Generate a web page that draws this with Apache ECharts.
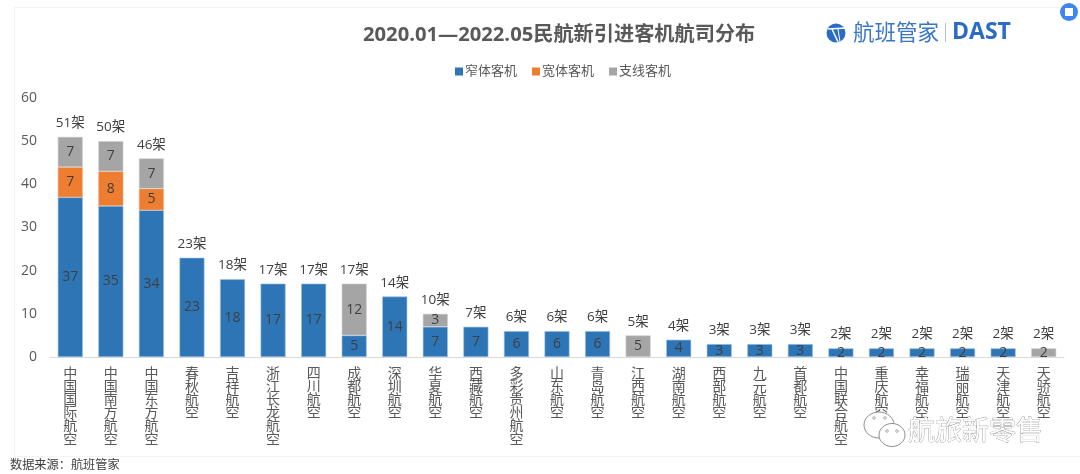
<!DOCTYPE html>
<html>
<head>
<meta charset="utf-8">
<title>民航新引进客机航司分布</title>
<style>
html, body { margin: 0; padding: 0; background: #fff; }
#chart { width: 1080px; height: 474px; }
</style>
<script src="https://cdn.jsdelivr.net/npm/echarts@6/dist/echarts.min.js"></script>
</head>
<body>
<div id="chart"></div>
<script>
var categories = ['中国国际航空', '中国南方航空', '中国东方航空', '春秋航空', '吉祥航空', '浙江长龙航空', '四川航空', '成都航空', '深圳航空', '华夏航空', '西藏航空', '多彩贵州航空', '山东航空', '青岛航空', '江西航空', '湖南航空', '西部航空', '九元航空', '首都航空', '中国联合航空', '重庆航空', '幸福航空', '瑞丽航空', '天津航空', '天骄航空'];
var narrowBody = [37, 35, 34, 23, 18, 17, 17, 5, 14, 7, 7, 6, 6, 6, null, 4, 3, 3, 3, 2, 2, 2, 2, 2, null];
var wideBody = [7, 8, 5, null, null, null, null, null, null, null, null, null, null, null, null, null, null, null, null, null, null, null, null, null, null];
var regional = [7, 7, 7, null, null, null, null, 12, null, 3, null, null, null, null, 5, null, null, null, null, null, null, null, null, null, 2];
var totals = [51, 50, 46, 23, 18, 17, 17, 17, 14, 10, 7, 6, 6, 6, 5, 4, 3, 3, 3, 2, 2, 2, 2, 2, 2];
var FONT = '"Open Sans", "Noto Sans CJK SC", sans-serif';
var TEXT = '#595959';

function barSeries(name, data, color, edge) {
    return {
        name: name,
        type: 'bar',
        stack: 'total',
        barWidth: 25,
        data: data,
        itemStyle: { color: color, borderColor: edge, borderWidth: 0.6 },
        label: {
            show: true,
            position: 'inside',
            color: '#404040',
            fontFamily: FONT,
            fontSize: 14
        }
    };
}

// 微信水印气泡上的小眼睛
function dot(cx, cy) {
    return { type: 'circle', z: 53, shape: { cx: cx, cy: cy, r: 1.3 }, style: { fill: '#fff', stroke: '#8c8c8c', lineWidth: 0.7 } };
}

var myChart = echarts.init(document.getElementById('chart'), null, { renderer: 'canvas' });

myChart.setOption({
    animation: false,
    backgroundColor: '#fff',
    title: {
        text: '2020.01—2022.05民航新引进客机航司分布',
        left: 358,
        top: 20,
        textStyle: { color: TEXT, fontFamily: FONT, fontSize: 20.2, fontWeight: 'bold' }
    },
    legend: {
        data: ['窄体客机', '宽体客机', '支线客机'],
        left: 450,
        top: 60,
        icon: 'rect',
        itemWidth: 8,
        itemHeight: 8,
        itemGap: 15,
        itemStyle: { borderWidth: 0 },
        textStyle: { color: TEXT, fontFamily: FONT, fontSize: 13, padding: [0, 0, 0, -3] }
    },
    grid: { left: 50, right: 16, top: 98, bottom: 117 },
    xAxis: {
        type: 'category',
        data: categories,
        axisTick: { show: false },
        axisLine: { lineStyle: { color: '#d9d9d9' } },
        axisLabel: {
            interval: 0,
            margin: 10,
            color: TEXT,
            fontFamily: FONT,
            fontSize: 14,
            lineHeight: 13.2,
            verticalAlign: 'top',
            formatter: function(value) {
                return value.split('').join('\n');
            }
        }
    },
    yAxis: {
        type: 'value',
        min: 0,
        max: 60,
        interval: 10,
        axisLine: { show: false },
        axisTick: { show: false },
        splitLine: { show: false },
        axisLabel: { margin: 13, color: TEXT, fontFamily: FONT, fontSize: 14 }
    },
    series: [
        barSeries('窄体客机', narrowBody, '#2e75b6', '#9dc3e6'),
        barSeries('宽体客机', wideBody, '#ed7d31', '#f4b183'),
        barSeries('支线客机', regional, '#a5a5a5', '#d0d0d0'),
        {
            name: '合计',
            type: 'line',
            data: totals,
            symbolSize: 0,
            lineStyle: { opacity: 0 },
            label: {
                show: true,
                position: 'top',
                distance: 7,
                color: '#404040',
                fontFamily: FONT,
                fontSize: 13.5,
                formatter: '{c}架'
            }
        }
    ],
    graphic: [
        // 卡片边框
        { type: 'rect', z: -1, shape: { x: 14.5, y: 7.5, width: 1070, height: 449 }, style: { fill: 'none', stroke: '#f2f2f2', lineWidth: 1 } },
        // 角标
        { type: 'circle', shape: { cx: 1069, cy: 12, r: 9 }, style: { fill: '#3d86f0' } },
        { type: 'rect', shape: { x: 1065, y: 8, width: 8, height: 8 }, style: { fill: '#fff' } },
        // logo
        { type: 'circle', shape: { cx: 836, cy: 33, r: 9.5 }, style: { fill: '#2a6cc4' } },
        { type: 'line', shape: { x1: 828, y1: 29, x2: 846, y2: 28 }, style: { stroke: '#fff', lineWidth: 1.5 } },
        { type: 'line', shape: { x1: 832, y1: 29, x2: 838, y2: 42 }, style: { stroke: '#fff', lineWidth: 1.5 } },
        { type: 'line', shape: { x1: 838, y1: 29, x2: 840, y2: 42 }, style: { stroke: '#fff', lineWidth: 1 } },
        { type: 'text', style: { x: 853, y: 32, text: '航班管家', fill: '#3a76c8', font: '21.5px "Noto Sans CJK SC"', textVerticalAlign: 'middle' } },
        { type: 'rect', shape: { x: 945, y: 23, width: 1, height: 19 }, style: { fill: '#a9c4e8' } },
        { type: 'text', style: { x: 952, y: 32, text: 'DAST', fill: '#2a6cc4', font: 'bold 23px "Open Sans"', textVerticalAlign: 'middle' } },
        // 数据来源
        { type: 'text', style: { x: 10, y: 464, text: '数据来源：航班管家', fill: '#404040', font: '12.2px "Noto Sans CJK SC"', textVerticalAlign: 'middle' } },
        // 水印
        { type: 'ellipse', z: 50, shape: { cx: 879, cy: 425, rx: 15, ry: 13 }, style: { fill: '#fff', stroke: '#8c8c8c', lineWidth: 1 } },
        { type: 'ellipse', z: 51, shape: { cx: 892, cy: 435, rx: 13, ry: 11.5 }, style: { fill: '#fff', stroke: '#8c8c8c', lineWidth: 1 } },
        dot(874, 418), dot(885, 418), dot(887, 431), dot(897, 431),
        { type: 'text', z: 52, style: { x: 908, y: 430, text: '航旅新零售', fill: '#fff', stroke: '#8c8c8c', lineWidth: 0.7, font: '27px "Noto Sans CJK SC"', textVerticalAlign: 'middle' } }
    ]
});
</script>
</body>
</html>
